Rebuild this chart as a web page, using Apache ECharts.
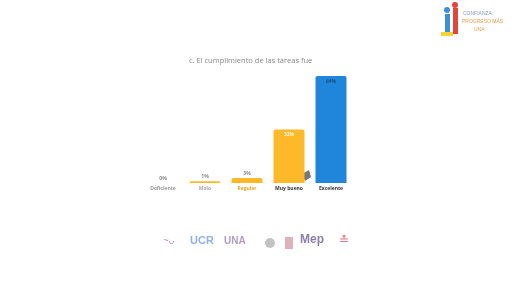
<!DOCTYPE html>
<html>
<head>
<meta charset="utf-8">
<script src="https://cdn.jsdelivr.net/npm/echarts@6/dist/echarts.min.js"></script>
<style>
    html, body { margin: 0; padding: 0; background: #fff; }
    #chart { width: 516px; height: 289px; }
</style>
</head>
<body>
<div id="chart"></div>
<script type="text/javascript">
    // categorias y porcentajes
    var categorias = ['Deficiente', 'Malo', 'Regular', 'Muy bueno', 'Excelente'];
    var valores = [0, 1, 3, 32, 64];
    var colores = ['#FDB92A', '#FDB92A', '#FDB92A', '#FDB92A', '#1F86DC'];
    var colorEtiqueta = ['#999', '#aaa', '#E8A524', '#333', '#333'];
    var logos = ['UCR', 'UNA', 'Mep'];

    var chart = echarts.init(document.getElementById('chart'));

    var datos = [];
    for (var i = 0; i < valores.length; i++) {
        var dentro = valores[i] > 20;
        datos.push({
            value: valores[i],
            itemStyle: { color: colores[i], borderRadius: [2, 2, 0, 0] },
            label: {
                position: dentro ? 'insideTop' : 'top',
                color: dentro ? (i == 4 ? '#1a4f80' : '#fff6dd') : '#888',
                distance: dentro ? 3 : 2
            }
        });
    }

    chart.setOption({
        animation: false,
        title: {
            text: 'c. El cumplimiento de las tareas fue',
            left: 184,
            top: 52,
            textStyle: { fontSize: 7.5, fontWeight: 'normal', color: '#888', fontFamily: 'Open Sans' }
        },
        grid: { left: 142, right: 164, top: 76, bottom: 106 },
        xAxis: {
            type: 'category',
            data: categorias,
            axisLine: { show: false },
            axisTick: { show: false },
            axisLabel: {
                fontSize: 5,
                margin: 3,
                fontFamily: 'Open Sans',
                color: function (v, idx) { return colorEtiqueta[idx]; },
                fontWeight: 'bold'
            }
        },
        yAxis: {
            type: 'value',
            min: 0,
            max: 64,
            show: false,
            splitLine: { show: false }
        },
        series: [{
            type: 'bar',
            barWidth: 31,
            data: datos,
            label: {
                show: true,
                fontSize: 5,
                fontWeight: 'bold',
                fontFamily: 'Open Sans',
                formatter: '{c}%'
            }
        }],
        graphic: [
            // logo superior derecho
            { type: 'rect', shape: { x: 445, y: 14, width: 5, height: 20 }, style: { fill: '#3b8fd9' } },
            { type: 'rect', shape: { x: 453, y: 8, width: 5, height: 26 }, style: { fill: '#e2463a' } },
            { type: 'circle', shape: { cx: 447, cy: 10, r: 3 }, style: { fill: '#3b8fd9' } },
            { type: 'circle', shape: { cx: 455, cy: 5, r: 3 }, style: { fill: '#e2463a' } },
            { type: 'rect', shape: { x: 441, y: 32, width: 12, height: 4 }, style: { fill: '#f7d23a' } },
            { type: 'text', left: 463, top: 11, style: { text: 'CONFIANZA', fontSize: 5, fill: '#8a9bc9' } },
            { type: 'text', left: 462, top: 19, style: { text: 'PROGRESO MÁS', fontSize: 5, fill: '#e9a14a' } },
            { type: 'text', left: 474, top: 27, style: { text: 'UNA', fontSize: 5, fill: '#e9a14a' } },
            // cursor gris junto a las barras
            { type: 'polygon', shape: { points: [[302, 174], [309, 170], [311, 177], [305, 181]] }, style: { fill: '#555', opacity: 0.8 } },
            // logos inferiores
            { type: 'text', left: 163, top: 236, style: { text: '~ᴗ', fontSize: 10, fill: '#b58fc2' } },
            { type: 'text', left: 190, top: 235, style: { text: logos[0], fontSize: 11, fontWeight: 'bold', fill: '#8fb3e6' } },
            { type: 'text', left: 224, top: 236, style: { text: logos[1], fontSize: 10, fontWeight: 'bold', fill: '#b39bc4' } },
            { type: 'circle', shape: { cx: 270, cy: 243, r: 5 }, style: { fill: '#9a9a9a', opacity: 0.6 } },
            { type: 'rect', shape: { x: 285, y: 237, width: 8, height: 12 }, style: { fill: '#c77e8a', opacity: 0.6 } },
            { type: 'text', left: 300, top: 234, style: { text: logos[2], fontSize: 12, fontWeight: 'bold', fill: '#8b7fa6' } },
            { type: 'text', left: 339, top: 235, style: { text: '≛', fontSize: 12, fill: '#d9787a' } }
        ]
    });
</script>
</body>
</html>
